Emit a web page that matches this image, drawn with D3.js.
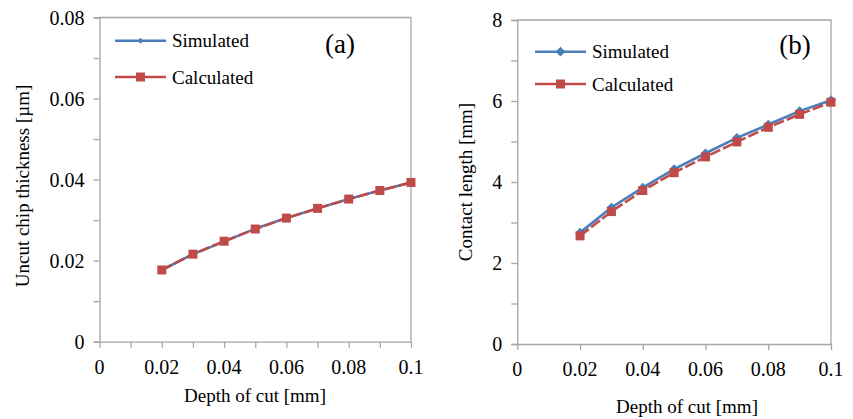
<!DOCTYPE html>
<html>
<head>
<meta charset="utf-8">
<script src="https://cdn.jsdelivr.net/npm/d3@7"></script>
<style>
  body { margin: 0; background: #fff; }
</style>
</head>
<body>
<svg id="svg" width="853" height="419"></svg>
<script>
// depth of cut values (x) shared by both panels
const depthOfCut = [0.02, 0.03, 0.04, 0.05, 0.06, 0.07, 0.08, 0.09, 0.1];

// panel (a): uncut chip thickness
const chipSimulated = [0.0177, 0.0216, 0.0247, 0.0279, 0.0305, 0.0329, 0.0352, 0.0373, 0.0393];
const chipCalculated = [0.0177, 0.0216, 0.0248, 0.0278, 0.0305, 0.0329, 0.0352, 0.0373, 0.0393];

// panel (b): contact length
const contactSimulated = [2.75, 3.37, 3.86, 4.32, 4.71, 5.09, 5.42, 5.75, 6.02];
const contactCalculated = [2.67, 3.27, 3.79, 4.23, 4.62, 4.99, 5.35, 5.67, 5.97];

const xTicks = [0, 0.02, 0.04, 0.06, 0.08, 0.1];
const chipTicks = [0, 0.02, 0.04, 0.06, 0.08];
const contactTicks = [0, 2, 4, 6, 8];
const seriesNames = ['Simulated', 'Calculated'];

const blue = '#4a7ebb';
const red = '#be4b48';
const axisGrey = '#a6a6a6';

const svg = d3.select('#svg');

function label(sel, size) {
    return sel.attr('style', `font-family:'Liberation Serif';font-size:${size}px`).attr('fill', '#000');
}

function drawPanel(opt) {
    const g = svg.append('g');
    const x = d3.scaleLinear().domain([0, 0.1]).range([opt.left, opt.right]);
    const y = d3.scaleLinear().domain([opt.yTicks[0], opt.yTicks[opt.yTicks.length - 1]])
        .range([opt.bottom, opt.top]);

    // frame (top and right)
    g.append('path')
        .attr('d', `M${opt.left},${opt.top}H${opt.right}V${opt.bottom}`)
        .attr('fill', 'none').attr('stroke', axisGrey).attr('stroke-width', 1.3);

    // y axis: minor ticks at half steps
    const yStep = opt.yTicks[1] - opt.yTicks[0];
    const yMinor = d3.range(opt.yTicks[0], opt.yTicks[opt.yTicks.length - 1] + yStep / 4, yStep / 2);
    const yAxis = g.append('g').attr('transform', `translate(${opt.left},0)`)
        .call(d3.axisLeft(y).tickValues(yMinor).tickSize(6).tickFormat(''));
    yAxis.select('.domain').attr('stroke', axisGrey).attr('stroke-width', 1.3);
    yAxis.selectAll('.tick line').attr('stroke', axisGrey).attr('stroke-width', 1.3);
    g.append('g').selectAll('text').data(opt.yTicks).join('text')
        .attr('x', opt.left - 15).attr('y', d => y(d))
        .attr('dy', '0.35em').attr('text-anchor', 'end')
        .call(label, 20)
        .text(d => d3.format('~g')(d));

    // x axis
    const xAxis = g.append('g').attr('transform', `translate(0,${opt.bottom})`)
        .call(d3.axisBottom(x).tickValues(opt.xMinor).tickSize(6).tickSizeOuter(0).tickFormat(''));
    xAxis.select('.domain').attr('stroke', axisGrey).attr('stroke-width', 1.3);
    xAxis.selectAll('.tick line').attr('stroke', axisGrey).attr('stroke-width', 1.3);
    g.append('g').selectAll('text').data(xTicks).join('text')
        .attr('x', d => x(d)).attr('y', opt.bottom + 25)
        .attr('dy', '0.35em').attr('text-anchor', 'middle')
        .call(label, 20)
        .text(d => d3.format('~g')(d));

    // axis titles
    g.append('text').attr('x', opt.xTitleX).attr('y', opt.xTitleY)
        .attr('text-anchor', 'middle').attr('dy', '0.35em')
        .call(label, 19).text('Depth of cut [mm]');
    g.append('text')
        .attr('transform', `translate(${opt.yTitleX},${opt.yTitleY}) rotate(-90)`)
        .attr('text-anchor', 'middle').attr('dy', '0.35em')
        .call(label, 19).text(opt.yTitle);

    // series
    const line = d3.line().x(d => x(d[0])).y(d => y(d[1]));
    const simPts = depthOfCut.map((d, i) => [d, opt.sim[i]]);
    const calPts = depthOfCut.map((d, i) => [d, opt.cal[i]]);

    g.append('path').datum(simPts).attr('d', line)
        .attr('fill', 'none').attr('stroke', blue).attr('stroke-width', 2.6);
    g.append('g').selectAll('path').data(simPts).join('path')
        .attr('transform', d => `translate(${x(d[0])},${y(d[1])})`)
        .attr('d', d3.symbol(d3.symbolDiamond2, opt.diamond))
        .attr('fill', blue);

    g.append('path').datum(calPts).attr('d', line)
        .attr('fill', 'none').attr('stroke', red).attr('stroke-width', 2.6)
        .attr('stroke-dasharray', '11,3');
    g.append('g').selectAll('rect').data(calPts).join('rect')
        .attr('x', d => x(d[0]) - 4.5).attr('y', d => y(d[1]) - 4.5)
        .attr('width', 9).attr('height', 9)
        .attr('fill', red);

    // legend
    const leg = g.append('g');
    seriesNames.forEach((name, i) => {
        const ly = opt.legY[i];
        const c = i === 0 ? blue : red;
        leg.append('line').attr('x1', opt.legX).attr('x2', opt.legX + 51)
            .attr('y1', ly).attr('y2', ly).attr('stroke', c).attr('stroke-width', 2.6);
        if (i === 0) {
            leg.append('path').attr('transform', `translate(${opt.legX + 25.5},${ly})`)
                .attr('d', d3.symbol(d3.symbolDiamond2, opt.diamond)).attr('fill', c);
        } else {
            leg.append('rect').attr('x', opt.legX + 21).attr('y', ly - 4.5)
                .attr('width', 9).attr('height', 9).attr('fill', c);
        }
        leg.append('text').attr('x', opt.legX + 57).attr('y', ly)
            .attr('dy', '0.35em').call(label, 19).text(name);
    });

    // panel label
    g.append('text').attr('x', opt.labX).attr('y', opt.labY)
        .attr('text-anchor', 'middle').attr('dy', '0.35em')
        .call(label, 27).text(opt.label);
}

drawPanel({
    left: 99.5, right: 411, top: 17.5, bottom: 341.7,
    yTicks: chipTicks,
    xMinor: d3.range(0, 0.1001, 0.01),
    sim: chipSimulated, cal: chipCalculated,
    diamond: 22,
    yTitle: 'Uncut chip thickness [µm]', yTitleX: 22, yTitleY: 186,
    xTitleX: 255, xTitleY: 395,
    legX: 115, legY: [40.7, 77],
    label: '(a)', labX: 340, labY: 44
});

drawPanel({
    left: 517.3, right: 831, top: 20, bottom: 344,
    yTicks: contactTicks,
    xMinor: xTicks,
    sim: contactSimulated, cal: contactCalculated,
    diamond: 60,
    yTitle: 'Contact length [mm]', yTitleX: 465, yTitleY: 182,
    xTitleX: 687, xTitleY: 406,
    legX: 535, legY: [51.7, 84],
    label: '(b)', labX: 795, labY: 45
});
</script>
</body>
</html>
